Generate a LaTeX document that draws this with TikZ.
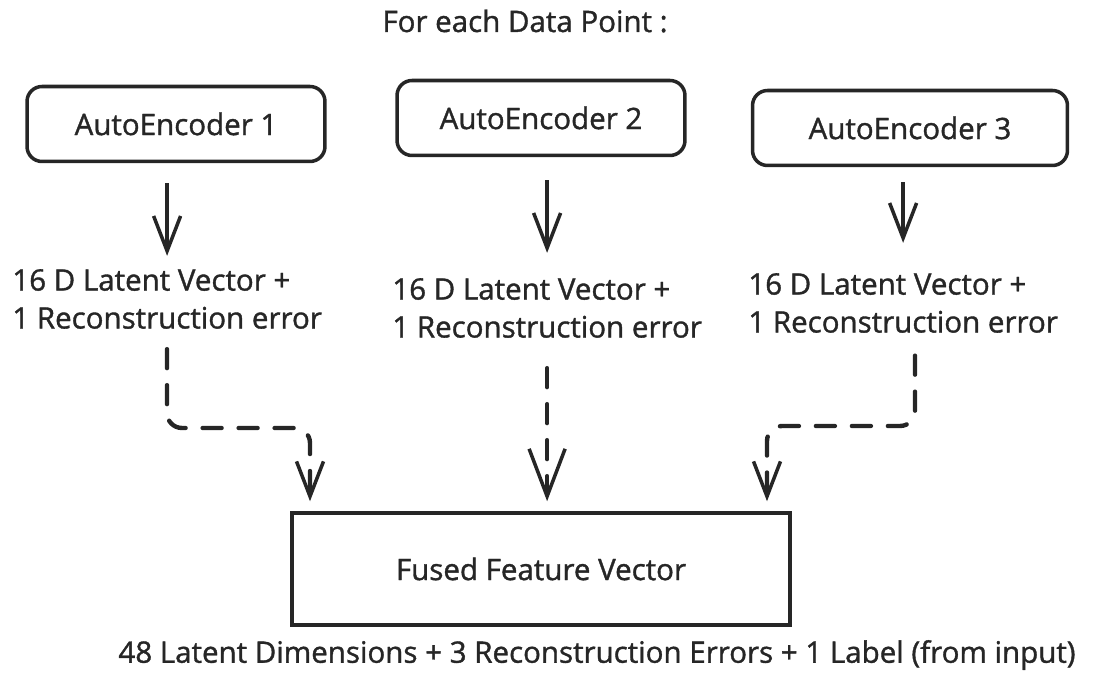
\documentclass[tikz,border=0pt]{standalone}
\usepackage{fontspec}
\setmainfont{Open Sans}[FakeBold=1.2]
\usepackage{tikz}
\usetikzlibrary{arrows.meta, positioning, calc}

\begin{document}
\begin{tikzpicture}[
    x=0.02cm, y=-0.02cm,
    every node/.style={font=\fontsize{16.8}{21.6}\selectfont, text=black!85, inner sep=0pt},
    encoder/.style={draw=black!85, line width=2pt, rounded corners=0.3cm, minimum height=1.5cm},
    fusedbox/.style={draw=black!85, line width=2pt, minimum width=9.96cm, minimum height=2.24cm},
    latent/.style={align=left, anchor=west},
    arr/.style={draw=black!85, line width=2pt, -{Straight Barb[length=0.7cm, width=0.54cm, line width=2pt]}},
    bigarr/.style={draw=black!85, line width=2pt, -{Straight Barb[length=0.95cm, width=0.72cm, line width=2pt]}},
    dasharr/.style={arr, line width=2.5pt, line cap=round, dash pattern=on 0.38cm off 0.34cm, rounded corners=0.3cm}
]
    \useasboundingbox (0,0) rectangle (1098,675);

    % title
    \node (title) at (525,21) {For each Data Point :};

    % autoencoders
    \node[encoder, minimum width=5.96cm] (ae1) at (176,124) {AutoEncoder 1};
    \node[encoder, minimum width=5.76cm] (ae2) at (541,118) {AutoEncoder 2};
    \node[encoder, minimum width=6.3cm] (ae3) at (910,128) {AutoEncoder 3};

    % latent outputs
    \node[latent] (lat1) at (12,299) {16 D Latent Vector +\\1 Reconstruction error};
    \node[latent] (lat2) at (392,308) {16 D Latent Vector +\\1 Reconstruction error};
    \node[latent] (lat3) at (748,303) {16 D Latent Vector +\\1 Reconstruction error};

    \draw[arr, shorten <=0.4cm, shorten >=0.26cm] (lat1.north |- ae1.south) -- (lat1.north);
    \draw[arr, shorten <=0.46cm, shorten >=0.5cm] (lat2.north |- ae2.south) -- (lat2.north);
    \draw[arr, shorten <=0.3cm, shorten >=0.6cm] (lat3.north |- ae3.south) -- (lat3.north);

    % fused vector
    \node[fusedbox] (fused) at (541,569) {Fused Feature Vector};
    \coordinate (k1) at (167,428);
    \coordinate (k2) at (310,428);
    \coordinate (k3) at (915,426);
    \coordinate (k4) at (767,426);

    \draw[dasharr, shorten <=0.4cm, shorten >=0.2cm] (lat1.south -| k1) -- (k1) -- (k2) -- (k2 |- fused.north);
    \draw[bigarr, line width=2.5pt, line cap=round, dash pattern=on 0.38cm off 0.34cm, shorten <=0.6cm, shorten >=0.2cm] (lat2.south) -- (lat2.south |- fused.north);
    \draw[dasharr, shorten <=0.45cm, shorten >=0.2cm] (lat3.south -| k3) -- (k3) -- (k4) -- (k4 |- fused.north);

    % summary
    \node[font=\fontsize{16.8}{21.6}\selectfont] (summary) at (597,655) {48 Latent Dimensions + 3 Reconstruction Errors + 1 Label (from input)};
\end{tikzpicture}
\end{document}
